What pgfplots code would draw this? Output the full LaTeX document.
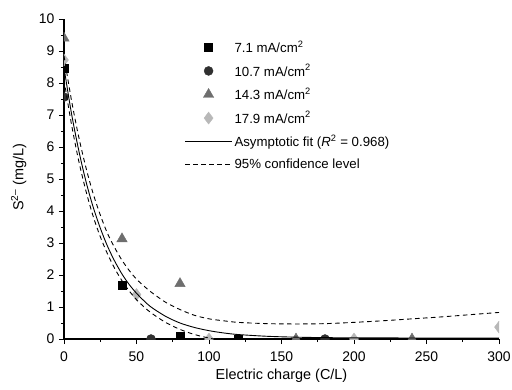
\documentclass[border=0pt]{standalone}
\usepackage{pgfplots}
\pgfplotsset{compat=1.18}
\usepackage{fontspec}
\setmainfont{Liberation Sans}
\definecolor{cCirc}{HTML}{303030}
\definecolor{cTri}{HTML}{6E6E6E}
\definecolor{cDia}{HTML}{B8B8B8}
\newcommand{\ft}{\fontsize{14}{16}\selectfont}
\newcommand{\fl}{\fontsize{14.5}{16}\selectfont}
\newcommand{\fg}{\fontsize{13.3}{15}\selectfont}
\begin{document}
\begin{tikzpicture}
\begin{axis}[
  name=ax,
  scale only axis,
  width=435bp, height=320bp,
  xmin=0, xmax=300, ymin=0, ymax=10,
  clip marker paths=true,
  axis lines=left,
  axis line style={-, line width=1.1pt},
  tick align=outside,
  xtick={0,50,...,300}, ytick={0,1,...,10},
  minor x tick num=1, minor y tick num=1,
  major tick length=5bp, minor tick length=3bp,
  tick style={line width=0.9pt, black},
  /pgf/number format/assume math mode=true,
  ticklabel style={font=\ft},
  xticklabel style={yshift=-4bp},
  yticklabel style={xshift=-1bp},
  xlabel={Electric charge (C/L)},
  ylabel={S\textsuperscript{2–} (mg/L)},
  label style={font=\fl},
  xlabel style={yshift=-1bp},
  ylabel style={at={(axis description cs:-0.104,0.505)}, anchor=center},
  legend style={at={(0.27,0.945)}, anchor=north west, draw=none, fill=none,
    font=\fg, row sep=6.4bp, cells={anchor=west}},
  legend image code/.code={\draw[mark repeat=2,mark phase=2,#1] plot coordinates {(0bp,0bp) (23.5bp,0bp) (47bp,0bp)};},
]
\addplot[only marks, mark=square*, mark size=4bp, black] coordinates {
 (0,8.47) (40,1.67) (80,0.09) (120,0)};
\addlegendentry{7.1 mA/cm\textsuperscript{2}}
\addplot[only marks, mark=*, mark size=4.5bp, cCirc, mark options={fill=cCirc}] coordinates {
 (0,7.56) (60,0) (180,0)};
\addlegendentry{10.7 mA/cm\textsuperscript{2}}
\addplot[only marks, mark=triangle*, mark size=6bp, cTri, mark options={fill=cTri}] coordinates {
 (0,9.4) (40,3.13) (80,1.73) (160,0) (240,0)};
\addlegendentry{14.3 mA/cm\textsuperscript{2}}
\addplot[only marks, mark=diamond*, mark size=6bp, cDia, mark options={fill=cDia}] coordinates {
 (0,8.72) (50,1.39) (100,0) (200,0) (300,0.37)};
\addlegendentry{17.9 mA/cm\textsuperscript{2}}
\addplot[black, line width=0.9pt, smooth] coordinates {
 (0,8.48) (5,7.09) (10,5.93) (15,4.95) (20,4.14) (25,3.47) (30,2.90) (35,2.43)
 (40,2.03) (45,1.70) (50,1.43) (55,1.20) (60,1.00) (70,0.71) (80,0.50) (90,0.36)
 (100,0.26) (110,0.19) (120,0.14) (140,0.085) (160,0.057) (180,0.043) (200,0.037)
 (250,0.031) (300,0.03)};
\addlegendentry{Asymptotic fit (\textit{R}\textsuperscript{2} = 0.968)}
\addplot[black, line width=0.9pt, dash pattern=on 4.5bp off 3.5bp, smooth] coordinates {
 (0,8.85) (5,7.5) (10,6.35) (15,5.38) (20,4.56) (25,3.88) (30,3.3) (35,2.85)
 (40,2.46) (45,2.14) (50,1.87) (55,1.66) (60,1.47) (70,1.15) (80,0.92) (90,0.74)
 (100,0.63) (110,0.57) (120,0.52) (140,0.48) (160,0.47) (180,0.48) (200,0.52)
 (220,0.57) (240,0.63) (260,0.69) (280,0.76) (300,0.83)};
\addlegendentry{95\% confidence level}
\addplot[black, line width=0.9pt, dash pattern=on 4.5bp off 3.5bp, smooth, forget plot] coordinates {
 (0,8.1) (5,6.75) (10,5.6) (15,4.65) (20,3.85) (25,3.2) (30,2.66) (35,2.2)
 (40,1.82) (45,1.5) (50,1.23) (55,1.01) (60,0.82) (70,0.52) (80,0.3) (90,0.14)
 (100,0.03) (110,-0.05) (130,-0.15)};
\end{axis}
\pgfresetboundingbox
\path[use as bounding box] ([xshift=-64bp,yshift=-51bp]ax.south west) rectangle ([xshift=13bp,yshift=19bp]ax.north east);
\end{tikzpicture}
\end{document}
